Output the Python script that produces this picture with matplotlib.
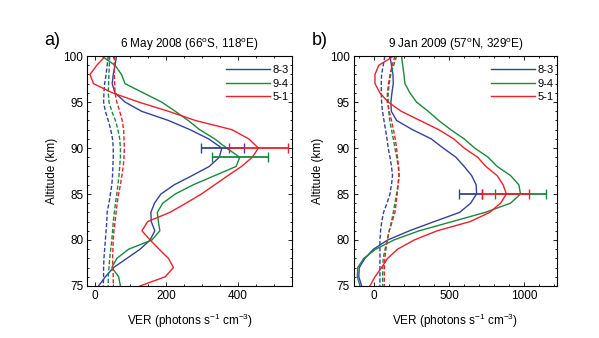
"""VER profiles of OH bands for two overpasses."""

import numpy as np
import matplotlib
matplotlib.use("Agg")
import matplotlib.pyplot as plt
from matplotlib.ticker import MultipleLocator

plt.rcParams['font.family'] = ['Liberation Sans', 'DejaVu Sans']
plt.rcParams['mathtext.default'] = 'regular'

BANDS = ['8-3', '9-4', '5-1']
COLORS = ['#34419b', '#178a3c', '#eb2128']

altitude = np.arange(100, 74, -1)

# 6 May 2008 -- solid: measured, dashed: model
ver_a = {
    '8-3': [61, 57, 52, 49, 57, 85, 131, 206, 266, 318, 355, 348, 320, 272, 222,
            185, 167, 157, 158, 168, 155, 127, 90, 53, 30, 11],
    '9-4': [20, 57, 75, 85, 136, 187, 225, 261, 293, 335, 368, 405, 395, 335, 275,
            225, 190, 175, 178, 182, 160, 95, 62, 48, 67, 72],
    '5-1': [30, 6, -13, -3, 50, 123, 206, 281, 383, 430, 457, 440, 410, 372, 335,
            298, 255, 210, 148, 132, 155, 180, 206, 220, 197, 127],
}
model_a = {
    '8-3': [38, 35, 32, 28, 26, 25, 30, 38, 45, 50, 52, 52, 51, 50, 48,
            44, 40, 35, 34, 32, 30, 28, 26, 25, 25, 24],
    '9-4': [42, 41, 40, 39, 38, 40, 48, 58, 65, 70, 72, 72, 70, 68, 65,
            62, 58, 55, 52, 50, 48, 45, 42, 40, 38, 38],
    '5-1': [55, 55, 55, 56, 57, 62, 70, 77, 81, 82, 83, 82, 80, 76, 72,
            67, 63, 60, 57, 54, 52, 51, 50, 51, 52, 52],
}
# peak altitude, centre and half width of the error bars
err_a = {
    '8-3': (90, 356, 60),
    '9-4': (89, 405, 78),
    '5-1': (90, 457, 83),
}

# 9 Jan 2009
ver_b = {
    '8-3': [105, 115, 125, 127, 118, 111, 114, 149, 255, 380, 460, 545, 600, 650, 680,
            683, 643, 570, 400, 235, 90, -5, -62, -100, -103, -84],
    '9-4': [182, 190, 198, 205, 238, 282, 360, 430, 510, 600, 670, 760, 820, 910, 965,
            976, 909, 740, 520, 300, 131, 10, -70, -110, -113, -95],
    '5-1': [130, 30, 5, 5, 38, 93, 180, 305, 430, 530, 600, 690, 745, 820, 860,
            882, 843, 770, 640, 420, 267, 156, 89, 49, 5, -29],
}
model_b = {
    '8-3': [71, 60, 49, 47, 47, 49, 55, 65, 75, 85, 93, 105, 115, 122, 115,
            105, 85, 62, 50, 42, 38, 38, 38, 38, 38, 38],
    '9-4': [149, 130, 110, 100, 93, 93, 97, 103, 115, 127, 138, 150, 160, 165, 158,
            149, 138, 127, 115, 100, 87, 72, 60, 57, 56, 56],
    '5-1': [138, 120, 105, 95, 88, 87, 100, 115, 128, 140, 149, 155, 163, 166, 160,
            153, 146, 138, 120, 100, 87, 78, 71, 68, 67, 67],
}
err_b = {
    '8-3': (85, 640, 76),
    '9-4': (85, 974, 169),
    '5-1': (85, 878, 158),
}


def draw_panel(ax, ver, model, err, title, label, xlim, xmajor, xminor):
    """Draw measured and modelled VER profiles with peak error bars."""
    for band, color in zip(BANDS, COLORS):
        ax.plot(ver[band], altitude, color=color, lw=1.0, label=band)
        ax.plot(model[band], altitude, color=color, lw=1.0, dashes=(3, 1.5))
    for band, color in zip(BANDS, COLORS):
        alt, centre, half = err[band]
        ax.errorbar(centre, alt, xerr=half, color=color, lw=1.3,
                    capsize=3.6, capthick=1.0, fmt='none')

    ax.set_xlim(*xlim)
    ax.set_ylim(75, 100)
    ax.xaxis.set_major_locator(MultipleLocator(xmajor))
    ax.xaxis.set_minor_locator(MultipleLocator(xminor))
    ax.yaxis.set_major_locator(MultipleLocator(5))
    ax.yaxis.set_minor_locator(MultipleLocator(1))
    ax.tick_params(which='both', direction='in', top=True, right=True,
                   labelsize=8.5, width=0.6, pad=3)
    ax.tick_params(which='major', length=3)
    ax.tick_params(which='minor', length=1.5)
    for sp in ax.spines.values():
        sp.set_linewidth(0.8)

    ax.set_xlabel(r'VER (photons s$^{-1}$ cm$^{-3}$)', fontsize=8.5, labelpad=7)
    ax.set_ylabel('Altitude (km)', fontsize=8.5, labelpad=4)
    ax.set_title(title, fontsize=8.5, pad=6)
    ax.text(-0.17, 1.03, label, transform=ax.transAxes, fontsize=13,
            ha='center', va='bottom')
    ax.legend(loc='upper right', bbox_to_anchor=(0.995, 0.97), frameon=False,
              fontsize=8, handlelength=4.0, handletextpad=0.2,
              labelspacing=0.3, borderpad=0.2, borderaxespad=0.0)


fig = plt.figure(figsize=(5.99, 3.38), dpi=100)
ax_a = fig.add_axes([0.146, 0.154, 0.341, 0.680])
ax_b = fig.add_axes([0.591, 0.154, 0.339, 0.680])

draw_panel(ax_a, ver_a, model_a, err_a,
           r'6 May 2008 (66$^{o}$S, 118$^{o}$E)', 'a)',
           (-20, 550), 200, 50)
draw_panel(ax_b, ver_b, model_b, err_b,
           r'9 Jan 2009 (57$^{o}$N, 329$^{o}$E)', 'b)',
           (-135, 1220), 500, 100)

fig.savefig('out.png', dpi=100)
plt.close(fig)
